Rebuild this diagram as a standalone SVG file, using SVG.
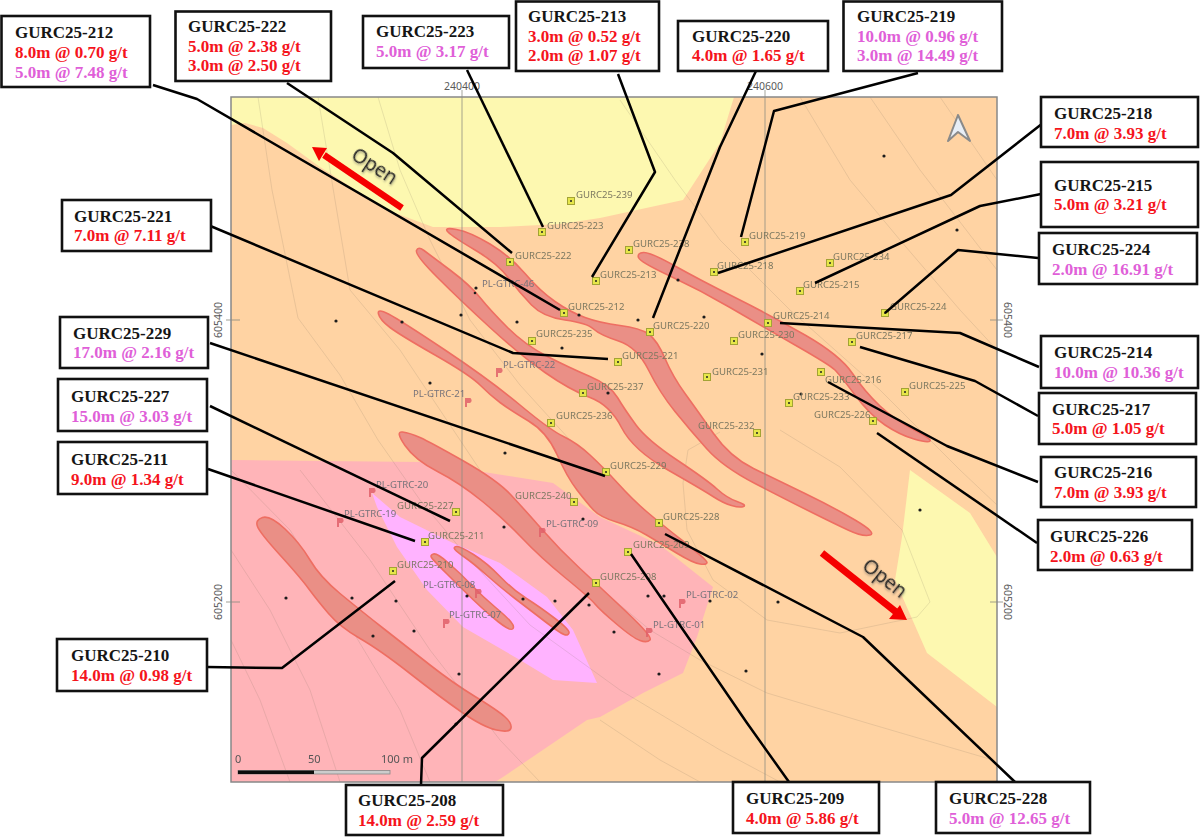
<svg xmlns="http://www.w3.org/2000/svg" width="1200" height="840" viewBox="0 0 1200 840">
<style>
text{font-family:"Liberation Serif","Times New Roman",serif}
.box{fill:#fff;stroke:#111;stroke-width:2.6}
.id,.r,.m{font-size:17px;font-weight:bold}
.id{fill:#151515}.r{fill:#f5141c}.m{fill:#e05fd8}
.cn{fill:none;stroke:#000;stroke-width:2.5;stroke-linejoin:round}
.ore{fill:#ea8f86;stroke:#ee6e62;stroke-width:1.6;stroke-linejoin:round}
.ct{fill:none;stroke:#7a7060;stroke-opacity:.17;stroke-width:1}
.grid{stroke:#8a8a80;stroke-opacity:.55;stroke-width:1.4;fill:none}
.sq{fill:#e6e64a;stroke:#a3a334;stroke-width:1}
.hd{fill:#222}
.dot{fill:#1c1c1c}
.lb text,text.lb{font-family:"Noto Sans","Open Sans",sans-serif;font-size:9.6px;fill:#7c7860}
.pl{font-family:"Noto Sans","Open Sans",sans-serif;font-size:9.6px;fill:#77737a}
.ax{font-family:"Noto Sans","Open Sans",sans-serif;font-size:10.5px;fill:#5a5a5a}
.sc{font-family:"Noto Sans","Open Sans",sans-serif;font-size:11px;fill:#555}
.op{font-family:"Open Sans","Noto Sans",sans-serif;font-size:19.5px;fill:#222}
.pm{fill:#e0606a;fill-opacity:.85}
</style>
<defs>
<filter id="soft" x="-2%" y="-2%" width="104%" height="104%"><feGaussianBlur stdDeviation="0.45"/></filter>
<filter id="sh" x="-20%" y="-20%" width="140%" height="140%"><feDropShadow dx="1" dy="1.2" stdDeviation="0.8" flood-color="#555" flood-opacity=".6"/></filter>
<g id="flag"><path d="M-3 5V-4H2.500Q5-1 2 1H-1V5Z"/></g>
</defs>
<rect width="1200" height="840" fill="#fff"/>
<g id="map" filter="url(#soft)">
<rect x="231" y="97" width="766" height="685" fill="#ffd3a3"/>
<polygon points="231,97 734,97 720,143 683,200 600,218 560,224 500,227 433,227 387,210 320,167 287,143 263,128 245,123 231,125" fill="#fdf8b0"/>
<polygon points="910,470 970,513 997,557 997,707 927,653 895,580 902,537" fill="#fdf8b0"/>
<polygon points="231,460 420,462 553,483 600,517 660,545 713,587 697,637 683,673 643,693 600,717 587,720 503,777 495,782 231,782" fill="#ffb4b8"/>
<polygon points="372,493 400,517 453,543 500,563 547,597 573,630 597,683 553,680 520,660 463,627 427,590 397,547 377,507" fill="#ffb3ff"/>
<g id="contours">
<polyline class="ct" points="258,97 272,190 298,318 340,375 378,440 420,500 470,560 530,625 620,690 720,750 780,782"/>
<polyline class="ct" points="318,97 335,200 350,290 400,350 440,410 480,470 530,520 590,580 650,630 700,660 767,693 867,723 993,760"/>
<polyline class="ct" points="378,97 400,170 430,240 470,320 520,385 570,440"/>
<polyline class="ct" points="620,100 675,180 720,240 790,310 880,390 960,470 997,505"/>
<polyline class="ct" points="800,97 850,180 900,240 960,310 997,350"/>
<polyline class="ct" points="870,97 920,170 997,270"/>
<polyline class="ct" points="940,97 997,180"/>
<polyline class="ct" points="780,430 840,467 902,530 930,602 917,617 840,633 767,620 713,580 687,530 683,483 688,450 720,432"/>
<polyline class="ct" points="231,550 270,610 310,690 340,782"/>
<polyline class="ct" points="231,640 260,700 290,782"/>
<polyline class="ct" points="231,470 290,530 340,610 400,710 430,782"/>
<polyline class="ct" points="300,470 370,560 430,650 500,740 540,782"/>
<polyline class="ct" points="600,720 660,760 700,782"/>
</g>
<path class="ore" d="M638.500 257.500Q637 253 643.500 252.500T675 266T735 297.500T805 335T852.500 373.500T880 406T913.500 429.500T930 441T914 439T885 425T855 395T835 370T795 345T730 307.500T670 276T638.500 257.500Z"/>
<path class="ore" d="M448 232Q443 227 456.500 229.500T490 244T525 273.500T555 301.500T585 317.500T620 325.500T648.500 334T665 358.500T685 393.500T713.500 433.500T753.500 468.500T805 493.500T855 520T870 535T848 530T810 511.500T755 483.500T706.500 448.500T675 411.500T648.500 370T618.500 341T593.500 329T565 320T531.500 305T508.500 278T475 250T448 232Z"/>
<path class="ore" d="M416.500 250.500Q418 246 424 250.500T450 270T480 297.500T507.500 327.500T547.500 356.500T590 376.500T617.500 397.500T636 425T677 460T717 489T737 501.500T743.500 506.500T731.500 505.500T713 496.500T668 470T621.500 427.500T590 397.500T545 372.500T490 327.500T437.500 277.500T416.500 250.500Z"/>
<path class="ore" d="M378.500 314Q377 308 388.500 314T445 350T520 405T563.500 436.500T590 455T618 483.500T646.500 511.500T683.500 541.500T707 562.500T700 564T676.500 553T646.500 535T616.500 522T593.500 510T577 490T557 454.500T528.500 421T500 402.500T480 385T435 355T390 327.500T378.500 314Z"/>
<path class="ore" d="M405 445.500Q395 431 402.500 432T420 437.500T463.500 461T511 495T542.500 530T580 568.500T626.500 612T650 640T640 640.500T616.500 624T595 604T565 577.500T522.500 538.500T482.500 501.500T437.500 471.500T405 445.500Z"/>
<path class="ore" d="M257.500 526.500Q255 520 262.500 517.500T285 529T310 560T340 593.500T383.500 628.500T430 665T475 696.500T504.500 716.500T511 728T496.500 730T461.500 712T410 673.500T360 638.500T328.500 613.500T308.500 588.500T280 555T257.500 526.500Z"/>
<path class="ore" d="M431.500 557.500Q430 555 433.500 554T448.500 563T471.500 585T495 607T511 622T512.500 629T498.500 622T473.500 600T446.500 573.500T431.500 557.500Z"/>
<path class="ore" d="M455 549.500Q453 547 456.500 546.500T473.500 554.500T500 576.500T526.500 598.500T555 618.500T569 633T564 634.500T545 621.500T515 598.500T486.500 575T465 557.500T455 549.500Z"/>
<g id="grid">
<path class="grid" d="M462 90V782M765 90V782M226 320H240M990 320H1003M226 602H240M990 602H1003"/>
</g>
<g id="dots" class="dot">
<circle cx="336" cy="321" r="1.6"/><circle cx="402" cy="322" r="1.6"/><circle cx="461" cy="315" r="1.6"/><circle cx="517" cy="322" r="1.6"/><circle cx="562" cy="348" r="1.6"/><circle cx="579" cy="315" r="1.6"/><circle cx="608" cy="393" r="1.6"/><circle cx="430" cy="383" r="1.6"/><circle cx="476" cy="288" r="1.6"/><circle cx="475" cy="293" r="1.3"/><circle cx="884" cy="156" r="1.6"/><circle cx="957" cy="230" r="1.6"/><circle cx="678" cy="280" r="1.6"/><circle cx="638" cy="320" r="1.6"/><circle cx="704" cy="317" r="1.6"/><circle cx="762" cy="354" r="1.6"/><circle cx="801" cy="394" r="1.6"/><circle cx="505" cy="453" r="1.6"/><circle cx="504" cy="527" r="1.6"/><circle cx="583" cy="519" r="1.6"/><circle cx="286" cy="598" r="1.6"/><circle cx="352" cy="598" r="1.6"/><circle cx="396" cy="601" r="1.6"/><circle cx="467" cy="596" r="1.6"/><circle cx="523" cy="599" r="1.6"/><circle cx="555" cy="601" r="1.6"/><circle cx="589" cy="605" r="1.6"/><circle cx="614" cy="632" r="1.6"/><circle cx="414" cy="631" r="1.6"/><circle cx="373" cy="636" r="1.6"/><circle cx="459" cy="674" r="1.6"/><circle cx="456" cy="724" r="1.6"/><circle cx="920" cy="510" r="1.6"/><circle cx="648" cy="596" r="1.6"/><circle cx="664" cy="596" r="1.6"/><circle cx="710" cy="601" r="1.6"/><circle cx="778" cy="602" r="1.6"/><circle cx="659" cy="674" r="1.6"/><circle cx="746" cy="671" r="1.6"/>
</g>
<g id="pl-markers" class="pm">
<use href="#flag" x="499" y="372"/><use href="#flag" x="468" y="402"/><use href="#flag" x="372" y="492"/><use href="#flag" x="340" y="522"/><use href="#flag" x="478" y="593"/><use href="#flag" x="446" y="623"/><use href="#flag" x="542" y="532"/><use href="#flag" x="682" y="603"/><use href="#flag" x="649" y="632"/>
</g>
<g id="pl-labels">
<text class="pl" x="482" y="287">PL-GTRC-46</text><text class="pl" x="503" y="368">PL-GTRC-22</text><text class="pl" x="413" y="397">PL-GTRC-21</text><text class="pl" x="376" y="488">PL-GTRC-20</text><text class="pl" x="344" y="517">PL-GTRC-19</text><text class="pl" x="423" y="588">PL-GTRC-08</text><text class="pl" x="449" y="618">PL-GTRC-07</text><text class="pl" x="546" y="527">PL-GTRC-09</text><text class="pl" x="686" y="598">PL-GTRC-02</text><text class="pl" x="653" y="628">PL-GTRC-01</text>
</g>
<g id="holes" class="lb">
<g id="h239"><rect class="sq" x="567.5" y="197.5" width="7" height="7"/><circle class="hd" cx="571" cy="201" r="1"/><text x="576" y="198">GURC25-239</text></g>
<g id="h223"><rect class="sq" x="538.5" y="228.5" width="7" height="7"/><circle class="hd" cx="542" cy="232" r="1"/><text x="547" y="229">GURC25-223</text></g>
<g id="h222"><rect class="sq" x="506.5" y="258.5" width="7" height="7"/><circle class="hd" cx="510" cy="262" r="1"/><text x="515" y="259">GURC25-222</text></g>
<g id="h238"><rect class="sq" x="625.5" y="246.5" width="7" height="7"/><circle class="hd" cx="629" cy="250" r="1"/><text x="633" y="247">GURC25-238</text></g>
<g id="h213"><rect class="sq" x="592.5" y="277.5" width="7" height="7"/><circle class="hd" cx="596" cy="281" r="1"/><text x="600" y="278">GURC25-213</text></g>
<g id="h212"><rect class="sq" x="560.5" y="309.5" width="7" height="7"/><circle class="hd" cx="564" cy="313" r="1"/><text x="568" y="310">GURC25-212</text></g>
<g id="h235"><rect class="sq" x="528.5" y="337.5" width="7" height="7"/><circle class="hd" cx="532" cy="341" r="1"/><text x="536" y="337">GURC25-235</text></g>
<g id="h221"><rect class="sq" x="614.5" y="358.5" width="7" height="7"/><circle class="hd" cx="618" cy="362" r="1"/><text x="622" y="359">GURC25-221</text></g>
<g id="h220"><rect class="sq" x="646.5" y="328.5" width="7" height="7"/><circle class="hd" cx="650" cy="332" r="1"/><text x="653" y="329">GURC25-220</text></g>
<g id="h218"><rect class="sq" x="710.5" y="268.5" width="7" height="7"/><circle class="hd" cx="714" cy="272" r="1"/><text x="717" y="269">GURC25-218</text></g>
<g id="h219"><rect class="sq" x="741.5" y="238.5" width="7" height="7"/><circle class="hd" cx="745" cy="242" r="1"/><text x="749" y="239">GURC25-219</text></g>
<g id="h234"><rect class="sq" x="826.5" y="259.5" width="7" height="7"/><circle class="hd" cx="830" cy="263" r="1"/><text x="833" y="260">GURC25-234</text></g>
<g id="h215"><rect class="sq" x="796.5" y="287.5" width="7" height="7"/><circle class="hd" cx="800" cy="291" r="1"/><text x="803" y="288">GURC25-215</text></g>
<g id="h224"><rect class="sq" x="881.5" y="309.5" width="7" height="7"/><circle class="hd" cx="885" cy="313" r="1"/><text x="890" y="310">GURC25-224</text></g>
<g id="h214"><rect class="sq" x="764.5" y="319.5" width="7" height="7"/><circle class="hd" cx="768" cy="323" r="1"/><text x="773" y="319">GURC25-214</text></g>
<g id="h230"><rect class="sq" x="730.5" y="337.5" width="7" height="7"/><circle class="hd" cx="734" cy="341" r="1"/><text x="738" y="338">GURC25-230</text></g>
<g id="h217"><rect class="sq" x="848.5" y="338.5" width="7" height="7"/><circle class="hd" cx="852" cy="342" r="1"/><text x="856" y="339">GURC25-217</text></g>
<g id="h216"><rect class="sq" x="817.5" y="368.5" width="7" height="7"/><circle class="hd" cx="821" cy="372" r="1"/><text x="825" y="383">GURC25-216</text></g>
<g id="h233"><rect class="sq" x="785.5" y="399.5" width="7" height="7"/><circle class="hd" cx="789" cy="403" r="1"/><text x="793" y="400">GURC25-233</text></g>
<g id="h226"><rect class="sq" x="869.5" y="417.5" width="7" height="7"/><circle class="hd" cx="873" cy="421" r="1"/><text x="814" y="418">GURC25-226</text></g>
<g id="h225"><rect class="sq" x="901.5" y="388.5" width="7" height="7"/><circle class="hd" cx="905" cy="392" r="1"/><text x="909" y="389">GURC25-225</text></g>
<g id="h231"><rect class="sq" x="703.5" y="373.5" width="7" height="7"/><circle class="hd" cx="707" cy="377" r="1"/><text x="712" y="375">GURC25-231</text></g>
<g id="h232"><rect class="sq" x="753.5" y="429.5" width="7" height="7"/><circle class="hd" cx="757" cy="433" r="1"/><text x="698" y="429">GURC25-232</text></g>
<g id="h237"><rect class="sq" x="579.5" y="389.5" width="7" height="7"/><circle class="hd" cx="583" cy="393" r="1"/><text x="587" y="390">GURC25-237</text></g>
<g id="h236"><rect class="sq" x="547.5" y="419.5" width="7" height="7"/><circle class="hd" cx="551" cy="423" r="1"/><text x="556" y="419">GURC25-236</text></g>
<g id="h229"><rect class="sq" x="602.5" y="468.5" width="7" height="7"/><circle class="hd" cx="606" cy="472" r="1"/><text x="610" y="469">GURC25-229</text></g>
<g id="h240"><rect class="sq" x="570.5" y="498.5" width="7" height="7"/><circle class="hd" cx="574" cy="502" r="1"/><text x="515" y="499">GURC25-240</text></g>
<g id="h228"><rect class="sq" x="655.5" y="519.5" width="7" height="7"/><circle class="hd" cx="659" cy="523" r="1"/><text x="663" y="520">GURC25-228</text></g>
<g id="h227"><rect class="sq" x="452.5" y="508.5" width="7" height="7"/><circle class="hd" cx="456" cy="512" r="1"/><text x="397" y="509">GURC25-227</text></g>
<g id="h211"><rect class="sq" x="421.5" y="538.5" width="7" height="7"/><circle class="hd" cx="425" cy="542" r="1"/><text x="428" y="539">GURC25-211</text></g>
<g id="h210"><rect class="sq" x="389.5" y="567.5" width="7" height="7"/><circle class="hd" cx="393" cy="571" r="1"/><text x="397" y="568">GURC25-210</text></g>
<g id="h209"><rect class="sq" x="624.5" y="548.5" width="7" height="7"/><circle class="hd" cx="628" cy="552" r="1"/><text x="633" y="548">GURC25-209</text></g>
<g id="h208"><rect class="sq" x="592.5" y="579.5" width="7" height="7"/><circle class="hd" cx="596" cy="583" r="1"/><text x="600" y="580">GURC25-208</text></g>
</g>
<g id="north">
<path d="M958 115L948 141 958 132 970 141Z" fill="#e8eef6" stroke="#8a8a8a" stroke-width="2" stroke-linejoin="round"/>
</g>
<g id="scale">
<text class="sc" x="235" y="763">0</text><text class="sc" x="308" y="763">50</text><text class="sc" x="381" y="763">100 m</text>
<rect x="238" y="770.5" width="152" height="3.5" fill="#ccc" stroke="#888" stroke-width=".8"/>
<rect x="238" y="770.5" width="76" height="3.5" fill="#111"/>
</g>
<rect x="231" y="97" width="766" height="685" fill="none" stroke="#888" stroke-width="1.5"/>
</g>
<g id="axis-labels">
<text class="ax" x="462" y="90" text-anchor="middle">240400</text>
<text class="ax" x="765" y="90" text-anchor="middle">240600</text>
<text class="ax" transform="translate(222 320) rotate(-90)" text-anchor="middle">605400</text>
<text class="ax" transform="translate(222 602) rotate(-90)" text-anchor="middle">605200</text>
<text class="ax" transform="translate(1004 320) rotate(90)" text-anchor="middle">605400</text>
<text class="ax" transform="translate(1004 602) rotate(90)" text-anchor="middle">605200</text>
</g>
<g id="open-arrows">
<path d="M402 208L324 155" stroke="#f50000" stroke-width="6.5" fill="none"/><path d="M312 147L327 148 319 161Z" fill="#f50000"/>
<path d="M822 553L896 612" stroke="#f50000" stroke-width="7" fill="none"/><path d="M907 620L889 619 900 605Z" fill="#f50000"/>
<text class="op" filter="url(#sh)" transform="translate(350 158) rotate(33)">Open</text>
<text class="op" filter="url(#sh)" transform="translate(861 568) rotate(38)">Open</text>
</g>
<g id="connectors">
<polyline class="cn" points="153,85 197,99 560,310"/>
<polyline class="cn" points="287,83 393,153 512,253"/>
<polyline class="cn" points="467,70 543,227"/>
<polyline class="cn" points="618,74 655,172 592,277"/>
<polyline class="cn" points="756,71 720,147 653,318"/>
<polyline class="cn" points="918,73 774,111 741,237"/>
<polyline class="cn" points="1043,123 951,195 718,273"/>
<polyline class="cn" points="1041,194 980,206 815,283"/>
<polyline class="cn" points="1038,258 958,250 885,313"/>
<polyline class="cn" points="1039,367 960,333 780,323"/>
<polyline class="cn" points="1038,416 975,381 860,347"/>
<polyline class="cn" points="1038,482 947,446 828,382"/>
<polyline class="cn" points="1037,543 877,433"/>
<polyline class="cn" points="208,225 513,353 608,359"/>
<polyline class="cn" points="210,343 605,476"/>
<polyline class="cn" points="210,406 450,521"/>
<polyline class="cn" points="208,469 415,541"/>
<polyline class="cn" points="207,667 282,668 395,581"/>
<polyline class="cn" points="421,785 422,758 589,593"/>
<polyline class="cn" points="789,782 747,723 631,554"/>
<polyline class="cn" points="1015,782 863,637 665,534"/>
</g>
<g id="GURC25-212"><rect class="box" x="1.5" y="16" width="148.500" height="71"/><text class="id" x="15" y="38">GURC25-212</text><text class="r" x="15" y="58">8.0m @ 0.70 g/t</text><text class="m" x="15" y="78">5.0m @ 7.48 g/t</text></g>
<g id="GURC25-222"><rect class="box" x="175.500" y="11.500" width="155.500" height="69.500"/><text class="id" x="188" y="32">GURC25-222</text><text class="r" x="188" y="52">5.0m @ 2.38 g/t</text><text class="r" x="188" y="71">3.0m @ 2.50 g/t</text></g>
<g id="GURC25-223"><rect class="box" x="363" y="16" width="146" height="52"/><text class="id" x="376" y="37">GURC25-223</text><text class="m" x="376" y="57">5.0m @ 3.17 g/t</text></g>
<g id="GURC25-213"><rect class="box" x="516" y="1.500" width="143" height="69.500"/><text class="id" x="528" y="22">GURC25-213</text><text class="r" x="528" y="42">3.0m @ 0.52 g/t</text><text class="r" x="528" y="61">2.0m @ 1.07 g/t</text></g>
<g id="GURC25-220"><rect class="box" x="678" y="21" width="150" height="50"/><text class="id" x="692" y="42">GURC25-220</text><text class="r" x="692" y="61">4.0m @ 1.65 g/t</text></g>
<g id="GURC25-219"><rect class="box" x="843.500" y="1.500" width="158.500" height="69.500"/><text class="id" x="857" y="22">GURC25-219</text><text class="m" x="857" y="42">10.0m @ 0.96 g/t</text><text class="m" x="857" y="61">3.0m @ 14.49 g/t</text></g>
<g id="GURC25-218"><rect class="box" x="1041" y="97" width="157" height="50"/><text class="id" x="1054" y="119">GURC25-218</text><text class="r" x="1054" y="139">7.0m @ 3.93 g/t</text></g>
<g id="GURC25-215"><rect class="box" x="1041" y="162" width="157" height="65"/><text class="id" x="1054" y="191">GURC25-215</text><text class="r" x="1054" y="210">5.0m @ 3.21 g/t</text></g>
<g id="GURC25-224"><rect class="box" x="1039" y="233" width="158" height="51"/><text class="id" x="1052" y="255">GURC25-224</text><text class="m" x="1052" y="275">2.0m @ 16.91 g/t</text></g>
<g id="GURC25-214"><rect class="box" x="1041" y="336" width="157" height="52"/><text class="id" x="1054" y="358">GURC25-214</text><text class="m" x="1054" y="378">10.0m @ 10.36 g/t</text></g>
<g id="GURC25-217"><rect class="box" x="1039" y="393" width="157" height="51"/><text class="id" x="1052" y="415">GURC25-217</text><text class="r" x="1052" y="434">5.0m @ 1.05 g/t</text></g>
<g id="GURC25-216"><rect class="box" x="1041" y="457" width="155" height="50"/><text class="id" x="1054" y="478">GURC25-216</text><text class="r" x="1054" y="498">7.0m @ 3.93 g/t</text></g>
<g id="GURC25-226"><rect class="box" x="1038" y="520" width="154" height="50"/><text class="id" x="1050" y="542">GURC25-226</text><text class="r" x="1050" y="562">2.0m @ 0.63 g/t</text></g>
<g id="GURC25-221"><rect class="box" x="62" y="200" width="149" height="51"/><text class="id" x="74" y="222">GURC25-221</text><text class="r" x="74" y="241">7.0m @ 7.11 g/t</text></g>
<g id="GURC25-229"><rect class="box" x="60" y="317" width="148" height="51"/><text class="id" x="73" y="339">GURC25-229</text><text class="m" x="73" y="358">17.0m @ 2.16 g/t</text></g>
<g id="GURC25-227"><rect class="box" x="58" y="379" width="149" height="52"/><text class="id" x="71" y="402">GURC25-227</text><text class="m" x="71" y="422">15.0m @ 3.03 g/t</text></g>
<g id="GURC25-211"><rect class="box" x="58" y="442" width="149" height="52"/><text class="id" x="71" y="465">GURC25-211</text><text class="r" x="71" y="485">9.0m @ 1.34 g/t</text></g>
<g id="GURC25-210"><rect class="box" x="57" y="639" width="150" height="52"/><text class="id" x="71" y="661">GURC25-210</text><text class="r" x="71" y="681">14.0m @ 0.98 g/t</text></g>
<g id="GURC25-208"><rect class="box" x="346" y="785" width="157" height="50"/><text class="id" x="358" y="806">GURC25-208</text><text class="r" x="358" y="826">14.0m @ 2.59 g/t</text></g>
<g id="GURC25-209"><rect class="box" x="733" y="782" width="146" height="51"/><text class="id" x="746" y="804">GURC25-209</text><text class="r" x="746" y="824">4.0m @ 5.86 g/t</text></g>
<g id="GURC25-228"><rect class="box" x="936" y="782" width="154" height="51"/><text class="id" x="949" y="804">GURC25-228</text><text class="m" x="949" y="824">5.0m @ 12.65 g/t</text></g>
</svg>
